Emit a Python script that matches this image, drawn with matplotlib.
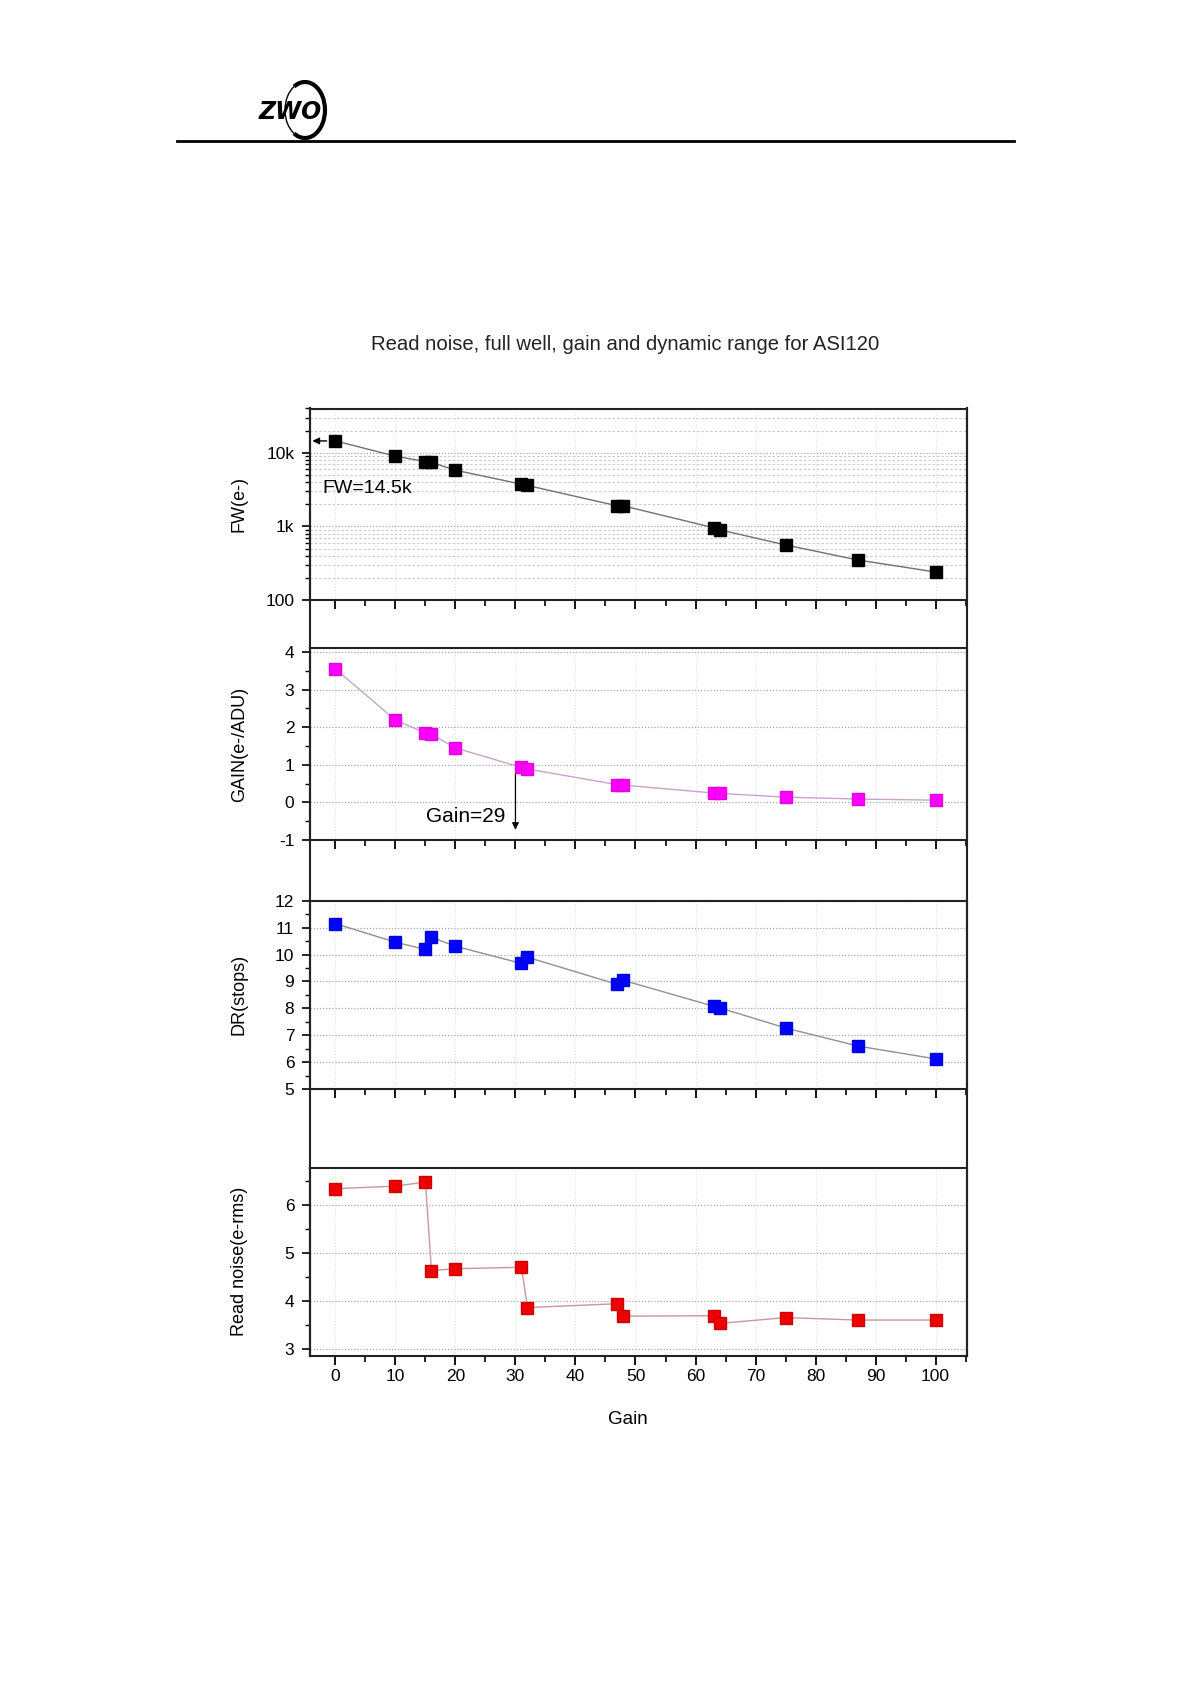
import matplotlib
matplotlib.use("Agg")
import matplotlib.pyplot as plt
from matplotlib.lines import Line2D
from matplotlib.patches import Arc
from matplotlib.ticker import MultipleLocator, FixedLocator, LogLocator, NullFormatter, FuncFormatter

plt.rcParams['font.family'] = ['Liberation Sans', 'DejaVu Sans']
plt.rcParams['axes.unicode_minus'] = False

# ---------------- data ----------------
gain = [0, 10, 15, 16, 20, 31, 32, 47, 48, 63, 64, 75, 87, 100]
full_well = [14500, 9000, 7600, 7400, 5800, 3750, 3600, 1900, 1900, 960, 900, 560, 350, 240]
e_per_adu = [3.55, 2.19, 1.85, 1.81, 1.45, 0.93, 0.89, 0.47, 0.46, 0.25, 0.24, 0.14, 0.09, 0.06]
dyn_range = [11.15, 10.46, 10.19, 10.64, 10.31, 9.67, 9.90, 8.89, 9.04, 8.08, 8.02, 7.27, 6.60, 6.12]
read_noise = [6.35, 6.40, 6.49, 4.64, 4.68, 4.71, 3.87, 3.95, 3.69, 3.70, 3.54, 3.66, 3.61, 3.61]
x_ticks = [0, 10, 20, 30, 40, 50, 60, 70, 80, 90, 100]
title = "Read noise, full well, gain and dynamic range for ASI120"

W_PX, H_PX = 1192, 1685
fig = plt.figure(figsize=(W_PX / 100, H_PX / 100), dpi=100)

LEFT, RIGHT = 309.6, 967.4
XLIM = (-4.3, 105.3)


def rect(top, bottom):
    return [LEFT / W_PX, 1 - bottom / H_PX, (RIGHT - LEFT) / W_PX, (bottom - top) / H_PX]


def style(ax, labels=False):
    ax.set_xlim(*XLIM)
    ax.xaxis.set_major_locator(FixedLocator(x_ticks))
    ax.xaxis.set_minor_locator(MultipleLocator(5))
    ax.tick_params(axis='x', which='major', direction='out', length=6.5, width=1.3,
                   labelsize=12.5, pad=3, labelbottom=labels, top=False)
    ax.tick_params(axis='x', which='minor', direction='out', length=4.3, width=1.2, top=False)
    ax.tick_params(axis='y', which='major', direction='out', length=6, width=1.2,
                   labelsize=12.5, pad=5, right=False)
    ax.tick_params(axis='y', which='minor', direction='out', length=3.5, width=1.0, right=False)
    for s in ax.spines.values():
        s.set_linewidth(1.5)
        s.set_color('#222222')
    ax.grid(True, axis='x', which='major', color='#dfe6e6', lw=0.9, ls=(0, (1, 1.5)))
    ax.grid(True, axis='y', which='major', color='#a8a8a8', lw=0.9, ls=(0, (1, 1.5)))
    ax.set_axisbelow(True)


mk = dict(marker='s', markersize=8, lw=1.0)
YLAB_X = -0.094

# FW panel
ax1 = fig.add_axes(rect(408.5, 600))
style(ax1)
ax1.set_yscale('log')
ax1.set_ylim(100, 40000)
ax1.yaxis.set_major_locator(FixedLocator([100, 1000, 10000]))
ax1.yaxis.set_major_formatter(FuncFormatter(lambda v, p: {100: '100', 1000: '1k', 10000: '10k'}.get(int(round(v)), '')))
ax1.yaxis.set_minor_locator(LogLocator(base=10, subs=range(2, 10)))
ax1.yaxis.set_minor_formatter(NullFormatter())
ax1.grid(True, axis='y', which='minor', color='#c8c8c8', lw=0.8, ls=(0, (2, 2)))
ax1.plot(gain, full_well, color='#707070', markerfacecolor='black', markeredgecolor='black', **mk)
ax1.annotate('', xy=(XLIM[0], full_well[0]), xytext=(-1.0, full_well[0]),
             arrowprops=dict(arrowstyle='-|>', color='black', lw=1.0, mutation_scale=10))
ax1.text(-2.2, 3300, 'FW=14.5k', fontsize=14, ha='left', va='center')
ax1.set_ylabel('FW(e-)', fontsize=13)
ax1.yaxis.set_label_coords(YLAB_X, 0.5)

# GAIN panel
ax2 = fig.add_axes(rect(648.3, 840))
style(ax2)
ax2.set_ylim(-1, 4.1)
ax2.yaxis.set_major_locator(MultipleLocator(1))
ax2.yaxis.set_minor_locator(MultipleLocator(0.5))
ax2.plot(gain, e_per_adu, color='#c9a3c9', markerfacecolor='#ff00ff', markeredgecolor='#e000e0', **mk)
ax2.annotate('', xy=(30, -0.8), xytext=(30, 0.82),
             arrowprops=dict(arrowstyle='-|>', color='black', lw=0.9, mutation_scale=10))
ax2.text(28.3, -0.37, 'Gain=29', fontsize=15, ha='right', va='center')
ax2.set_ylabel('GAIN(e-/ADU)', fontsize=13)
ax2.yaxis.set_label_coords(YLAB_X, 0.5)

# DR panel
ax3 = fig.add_axes(rect(900.8, 1089))
style(ax3)
ax3.set_ylim(5, 12)
ax3.yaxis.set_major_locator(MultipleLocator(1))
ax3.yaxis.set_minor_locator(MultipleLocator(0.5))
ax3.plot(gain, dyn_range, color='#909090', markerfacecolor='#0000ff', markeredgecolor='#0000dd', **mk)
ax3.set_ylabel('DR(stops)', fontsize=13)
ax3.yaxis.set_label_coords(YLAB_X, 0.5)

# Read noise panel
ax4 = fig.add_axes(rect(1167.5, 1356))
style(ax4, labels=True)
ax4.set_ylim(2.86, 6.79)
ax4.yaxis.set_major_locator(MultipleLocator(1))
ax4.yaxis.set_minor_locator(MultipleLocator(0.5))
ax4.plot(gain, read_noise, color='#c49a9a', markerfacecolor='#ee0000', markeredgecolor='#cc0000', **mk)
ax4.set_ylabel('Read noise(e-rms)', fontsize=13)
ax4.yaxis.set_label_coords(YLAB_X, 0.5)

# outer frame lines through the gaps
for xp in (LEFT, RIGHT):
    fig.add_artist(Line2D([xp / W_PX, xp / W_PX], [1 - 408.5 / H_PX, 1 - 1356 / H_PX],
                          transform=fig.transFigure, color='#222222', lw=1.5))

fig.text(628 / W_PX, 1 - 1419 / H_PX, 'Gain', fontsize=13.5, ha='center', va='center')
fig.text(625 / W_PX, 1 - 344 / H_PX, title, fontsize=14.6, ha='center', va='center', color='#222222')

# header rule
fig.add_artist(Line2D([177 / W_PX, 1014 / W_PX], [1 - 141 / H_PX, 1 - 141 / H_PX],
                      transform=fig.transFigure, color='black', lw=2.0))

# logo
axl = fig.add_axes([250 / W_PX, 1 - 140 / H_PX, 90 / W_PX, 60 / H_PX])
axl.set_xlim(0, 90)
axl.set_ylim(0, 60)
axl.axis('off')
axl.add_patch(Arc((55, 30), 40, 56, theta1=-115, theta2=115, lw=3.0, color='black'))
axl.add_patch(Arc((55, 30), 40, 56, theta1=115, theta2=245, lw=1.0, color='black'))
axl.text(40, 28, 'ZWO', fontsize=17, fontweight='bold', fontstyle='italic', ha='center', va='center',
         family=['DejaVu Sans'])

fig.savefig('out.png', dpi=100)
